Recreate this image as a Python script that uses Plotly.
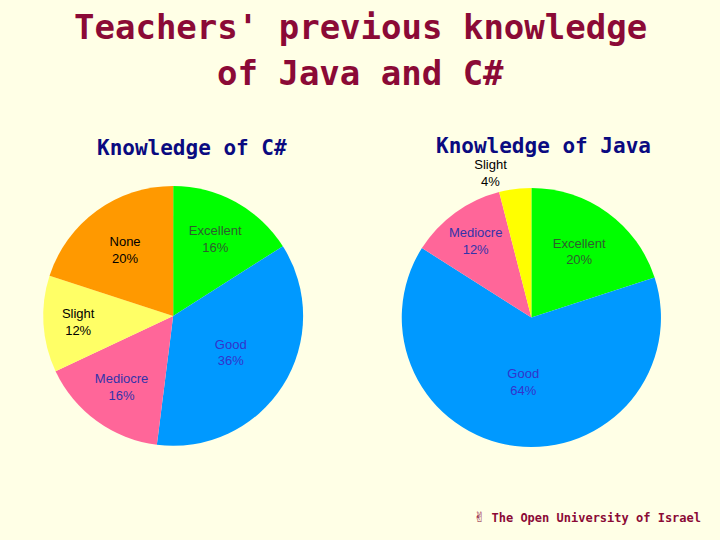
import plotly.graph_objects as go

# ---- data ----
csharp_levels = ["Excellent", "Good", "Mediocre", "Slight", "None"]
csharp_values = [16, 36, 16, 12, 20]
csharp_colors = ["#00FF00", "#0099FF", "#FF6699", "#FFFF66", "#FF9900"]
csharp_text_colors = ["#2E5E2E", "#3333CC", "#3333AA", "#000000", "#000000"]

java_levels = ["Excellent", "Good", "Mediocre", "Slight"]
java_values = [20, 64, 12, 4]
java_colors = ["#00FF00", "#0099FF", "#FF6699", "#FFFF00"]
java_text_colors = ["#2E5E2E", "#3333CC", "#3333AA", "#000000"]
java_text_pos = ["inside", "inside", "inside", "outside"]

title_lines = ["Teachers' previous knowledge", "of Java and C#"]
subtitle_csharp = "Knowledge of C#"
subtitle_java = "Knowledge of Java"
footer_symbol = "✌"
footer = "The Open University of Israel"

BG = "#FFFFE6"
TITLE_COLOR = "#8B0A36"
SUB_COLOR = "#0A0A80"

fig = go.Figure()
fig.add_trace(go.Pie(
    labels=csharp_levels, values=csharp_values, sort=False,
    direction="clockwise", rotation=0,
    marker=dict(colors=csharp_colors, line=dict(width=0)),
    texttemplate="%{label}<br>%{percent:.0%}",
    textposition="inside", insidetextorientation="horizontal",
    textfont=dict(family="Liberation Sans, Arial", size=13, color=csharp_text_colors),
    domain=dict(x=[0.060, 0.421], y=[0.174, 0.656]),
    showlegend=False, hoverinfo="label+percent",
))
fig.add_trace(go.Pie(
    labels=java_levels, values=java_values, sort=False,
    direction="clockwise", rotation=0,
    marker=dict(colors=java_colors, line=dict(width=0)),
    texttemplate="%{label}<br>%{percent:.0%}",
    textposition=java_text_pos, insidetextorientation="horizontal",
    textfont=dict(family="Liberation Sans, Arial", size=13, color=java_text_colors),
    domain=dict(x=[0.558, 0.918], y=[0.172, 0.652]),
    showlegend=False, hoverinfo="label+percent",
))

annotations = [
    dict(text="<b>" + title_lines[0] + "</b>", x=0.5, y=1 - 27 / 540, font=dict(size=34, color=TITLE_COLOR)),
    dict(text="<b>" + title_lines[1] + "</b>", x=0.5, y=1 - 73 / 540, font=dict(size=34, color=TITLE_COLOR)),
    dict(text="<b>" + subtitle_csharp + "</b>", x=192 / 720, y=1 - 148 / 540, font=dict(size=21, color=SUB_COLOR)),
    dict(text="<b>" + subtitle_java + "</b>", x=543 / 720, y=1 - 146 / 540, font=dict(size=21, color=SUB_COLOR)),
    dict(text="<span style='font-size:17px'>" + footer_symbol + "</span> <b>" + footer + "</b>",
         x=587 / 720, y=1 - 516 / 540, font=dict(size=12, color=TITLE_COLOR)),
]
for a in annotations:
    a.update(xref="paper", yref="paper", showarrow=False, xanchor="center", yanchor="middle")
    a["font"]["family"] = "DejaVu Sans Mono"

fig.update_layout(
    width=720, height=540,
    margin=dict(l=0, r=0, t=0, b=0),
    paper_bgcolor=BG, plot_bgcolor=BG,
    annotations=annotations,
)
fig.write_html(
    "out.html",
    config={"displayModeBar": False},
    post_script="document.body.style.margin='0';document.body.style.background='" + BG + "';",
)
